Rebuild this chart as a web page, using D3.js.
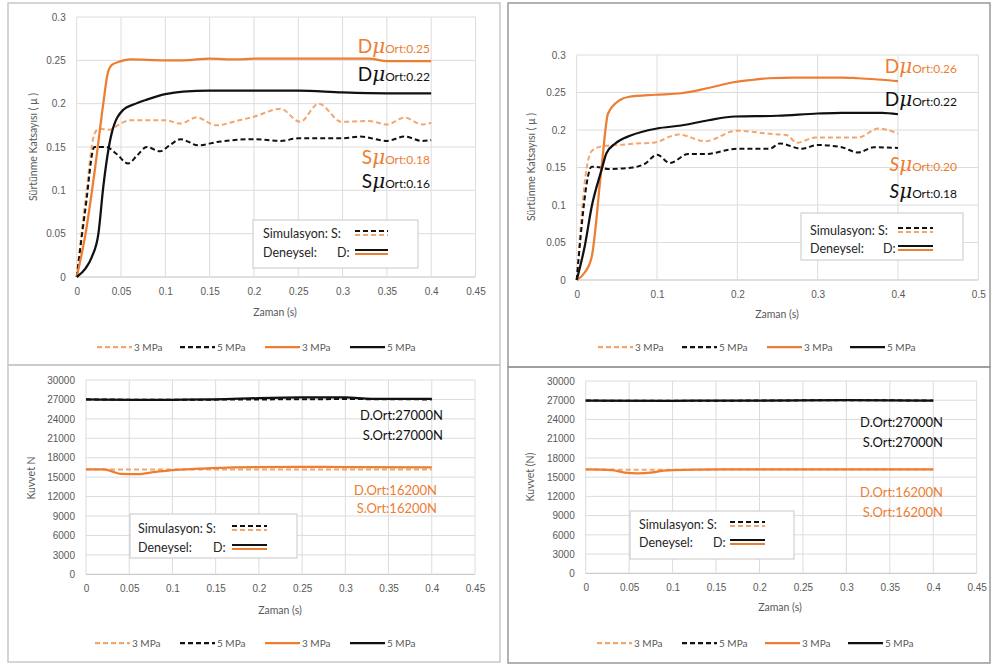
<!DOCTYPE html>
<html>
<head>
<meta charset="utf-8">
<script src="https://cdn.jsdelivr.net/npm/d3@7"></script>
<style>
  body { margin: 0; background: #fff; }
  svg { font-family: Lato, "Open Sans", sans-serif; }
  .tick text { fill: #595959; font-size: 10px; }
</style>
</head>
<body>
<svg id="chart" width="995" height="666"></svg>
<script>
// friction coefficient vs time, left test (t, mu)
var fricL_S3 = [[0,0],[0.01,0.09],[0.02,0.165],[0.025,0.171],[0.037,0.17],[0.048,0.176],[0.06,0.181],[0.08,0.181],[0.1,0.181],[0.117,0.177],[0.135,0.184],[0.158,0.175],[0.18,0.18],[0.2,0.185],[0.23,0.194],[0.252,0.179],[0.273,0.2],[0.299,0.179],[0.33,0.18],[0.35,0.176],[0.37,0.184],[0.39,0.176],[0.4,0.178]]
var fricL_S5 = [[0,0],[0.01,0.08],[0.02,0.15],[0.033,0.15],[0.045,0.142],[0.058,0.131],[0.068,0.14],[0.079,0.15],[0.094,0.145],[0.105,0.152],[0.117,0.159],[0.137,0.152],[0.16,0.156],[0.2,0.159],[0.23,0.157],[0.25,0.16],[0.3,0.16],[0.32,0.162],[0.35,0.157],[0.37,0.162],[0.39,0.157],[0.4,0.158]]
var fricL_D3 = [[0,0],[0.01,0.05],[0.02,0.12],[0.03,0.2],[0.035,0.235],[0.04,0.245],[0.05,0.249],[0.06,0.251],[0.1,0.25],[0.12,0.25],[0.15,0.252],[0.18,0.251],[0.2,0.252],[0.25,0.252],[0.3,0.252],[0.33,0.252],[0.35,0.249],[0.4,0.249]]
var fricL_D5 = [[0,0],[0.01,0.01],[0.017,0.023],[0.0245,0.05],[0.03,0.104],[0.0395,0.166],[0.0526,0.193],[0.064,0.199],[0.08,0.205],[0.1,0.211],[0.12,0.214],[0.15,0.215],[0.2,0.215],[0.25,0.215],[0.3,0.213],[0.35,0.212],[0.4,0.212]]

// friction coefficient vs time, right test
var fricR_S3 = [[0,0],[0.0125,0.15],[0.0187,0.172],[0.031,0.178],[0.052,0.18],[0.075,0.182],[0.095,0.183],[0.127,0.194],[0.16,0.185],[0.199,0.199],[0.24,0.195],[0.262,0.193],[0.274,0.183],[0.297,0.19],[0.35,0.19],[0.376,0.202],[0.4,0.195]]
var fricR_S5 = [[0,0],[0.0187,0.151],[0.03,0.15],[0.039,0.148],[0.07,0.15],[0.085,0.155],[0.1,0.167],[0.116,0.156],[0.139,0.168],[0.16,0.168],[0.2,0.175],[0.24,0.175],[0.253,0.182],[0.28,0.175],[0.3,0.18],[0.33,0.177],[0.35,0.17],[0.37,0.177],[0.4,0.176]]
var fricR_D3 = [[0,0],[0.01,0.01],[0.0187,0.031],[0.031,0.151],[0.039,0.222],[0.054,0.24],[0.064,0.244],[0.098,0.247],[0.13,0.249],[0.164,0.256],[0.197,0.264],[0.22,0.267],[0.239,0.269],[0.27,0.27],[0.33,0.27],[0.35,0.269],[0.38,0.267],[0.4,0.265]]
var fricR_D5 = [[0,0],[0.01,0.045],[0.0187,0.098],[0.031,0.147],[0.037,0.169],[0.048,0.182],[0.068,0.193],[0.1,0.202],[0.13,0.206],[0.164,0.213],[0.197,0.218],[0.25,0.219],[0.3,0.222],[0.33,0.223],[0.38,0.223],[0.4,0.221]]

// force vs time (N)
var forceL_S3 = [[0,16200],[0.1,16200],[0.2,16200],[0.3,16200],[0.4,16200]]
var forceL_S5 = [[0,27000],[0.1,26950],[0.2,27000],[0.3,27050],[0.4,27000]]
var forceL_D3 = [[0,16200],[0.02,16200],[0.03,15900],[0.04,15500],[0.06,15450],[0.08,15800],[0.1,16100],[0.13,16300],[0.17,16500],[0.25,16600],[0.3,16550],[0.4,16500]]
var forceL_D5 = [[0,27000],[0.05,26950],[0.1,26950],[0.15,27000],[0.2,27200],[0.25,27300],[0.3,27300],[0.33,27100],[0.4,27100]]

var forceR_S3 = [[0,16200],[0.1,16150],[0.2,16200],[0.3,16200],[0.4,16200]]
var forceR_S5 = [[0,26950],[0.1,26900],[0.2,26950],[0.3,27000],[0.4,26950]]
var forceR_D3 = [[0,16200],[0.03,16100],[0.045,15700],[0.06,15600],[0.075,15700],[0.09,16000],[0.1,16100],[0.15,16200],[0.4,16200]]
var forceR_D5 = [[0,26950],[0.1,26900],[0.15,26950],[0.2,26950],[0.3,27000],[0.4,26950]]

// ticks
var fricYTicks = [0, 0.05, 0.1, 0.15, 0.2, 0.25, 0.3]
var forceYTicks = [0, 3000, 6000, 9000, 12000, 15000, 18000, 21000, 24000, 27000, 30000]
var timeTicks45 = [0, 0.05, 0.1, 0.15, 0.2, 0.25, 0.3, 0.35, 0.4, 0.45]
var timeTicks5 = [0, 0.1, 0.2, 0.3, 0.4, 0.5]

var legendNames = ['3 MPa', '5 MPa', '3 MPa', '5 MPa']
var fricAnnL = [['D', 'Ort:0.25'], ['D', 'Ort:0.22'], ['S', 'Ort:0.18'], ['S', 'Ort:0.16']]
var fricAnnR = [['D', 'Ort:0.26'], ['D', 'Ort:0.22'], ['S', 'Ort:0.20'], ['S', 'Ort:0.18']]
var forceAnn = ['D.Ort:27000N', 'S.Ort:27000N', 'D.Ort:16200N', 'S.Ort:16200N']

var ORANGE = '#ED7D31', ORANGE_L = '#F2A66E', BLACK = '#111'
var styles = [
  {color: ORANGE_L, dash: '5,3'},
  {color: BLACK, dash: '5,3'},
  {color: ORANGE, dash: null},
  {color: BLACK, dash: null}
]
var fricAnnColors = [ORANGE, BLACK, ORANGE, BLACK]
var forceAnnColors = [BLACK, BLACK, ORANGE, ORANGE]

var svg = d3.select('#chart')
var fmt = d => String(+d.toFixed(2))

function drawPanel(o){
  var g = svg.append('g')
  g.append('rect').attr('x', o.frame[0]).attr('y', o.frame[1])
    .attr('width', o.frame[2] - o.frame[0]).attr('height', o.frame[3] - o.frame[1])
    .attr('fill', 'none').attr('stroke', o.frameColor).attr('stroke-width', 1.5)

  var x = d3.scaleLinear().domain(o.xDomain).range([o.px[0], o.px[1]])
  var y = d3.scaleLinear().domain(o.yDomain).range([o.py[0], o.py[1]])

  // grid
  g.selectAll('line.gy').data(o.yTicks).join('line')
    .attr('x1', o.px[0]).attr('x2', o.px[1]).attr('y1', y).attr('y2', y)
    .attr('stroke', (d, i) => i ? '#dcdcdc' : '#bfbfbf')
  g.selectAll('line.gx').data(o.xTicks).join('line')
    .attr('y1', o.py[0]).attr('y2', o.py[1]).attr('x1', x).attr('x2', x)
    .attr('stroke', '#dcdcdc')

  g.append('g').attr('transform', 'translate(' + (o.px[0] - 8) + ',0)')
    .call(d3.axisLeft(y).tickValues(o.yTicks).tickSize(0).tickFormat(o.yFmt))
    .call(s => s.select('.domain').remove())
  g.append('g').attr('transform', 'translate(0,' + (o.py[0] + 8) + ')')
    .call(d3.axisBottom(x).tickValues(o.xTicks).tickSize(0).tickFormat(fmt))
    .call(s => s.select('.domain').remove())
  g.selectAll('.tick text').attr('font-family', null)

  g.append('text').attr('x', o.xTitle[0]).attr('y', o.xTitle[1]).attr('text-anchor', 'middle')
    .attr('font-size', 10.5).attr('fill', '#595959').text('Zaman (s)')
  g.append('text').attr('transform', 'translate(' + o.yTitle[0] + ',' + o.yTitle[1] + ') rotate(-90)')
    .attr('text-anchor', 'middle').attr('font-size', 10.5).attr('fill', '#595959').text(o.yLabel)

  var line = d3.line().x(d => x(d[0])).y(d => y(d[1])).curve(d3.curveMonotoneX)
  o.series.forEach(function(s, i){
    g.append('path').attr('d', line(s)).attr('fill', 'none')
      .attr('stroke', styles[i].color).attr('stroke-width', styles[i].dash ? 2 : 2.25)
      .attr('stroke-dasharray', styles[i].dash)
  })

  // bottom legend
  legendNames.forEach(function(n, i){
    var lx = o.legX[i]
    g.append('line').attr('x1', lx).attr('x2', lx + 35).attr('y1', o.legY).attr('y2', o.legY)
      .attr('stroke', styles[i].color).attr('stroke-width', 2.25).attr('stroke-dasharray', styles[i].dash)
    g.append('text').attr('x', lx + 37).attr('y', o.legY + 3.5).attr('font-size', 10)
      .attr('fill', '#595959').text(n)
  })

  // inner legend box
  var b = o.box
  g.append('rect').attr('x', b[0]).attr('y', b[1]).attr('width', b[2] - b[0]).attr('height', b[3] - b[1])
    .attr('fill', '#fff').attr('stroke', '#c8c8c8')
  ;[['Simulasyon: S:', '5,3'], ['Deneysel:', null]].forEach(function(r, i){
    var ry = o.rows[i]
    g.append('text').attr('x', o.boxText).attr('y', ry + 4.5).attr('font-size', 12.5)
      .attr('fill', '#262626').text(r[0])
    if (i) g.append('text').attr('x', o.dX).attr('y', ry + 4.5).attr('font-size', 12.5)
      .attr('fill', '#262626').text('D:')
    ;[[BLACK, -2], [i ? ORANGE : ORANGE_L, 2]].forEach(function(c){
      g.append('line').attr('x1', o.sample[0]).attr('x2', o.sample[1])
        .attr('y1', ry + c[1]).attr('y2', ry + c[1])
        .attr('stroke', c[0]).attr('stroke-width', 2).attr('stroke-dasharray', r[1])
    })
  })

  // annotations
  o.ann.forEach(function(a, i){
    var t = g.append('text').attr('x', o.annX[i]).attr('y', o.annY[i])
      .attr('text-anchor', 'end').attr('fill', o.annColors[i])
    if (typeof a === 'string') {
      t.attr('font-size', 13).text(a)
    } else {
      t.append('tspan').attr('font-size', 19).attr('font-style', o.italicS && a[0] == 'S' ? 'italic' : null).text(a[0])
      t.append('tspan').attr('font-size', 20).attr('font-style', 'italic').attr('font-family', 'DejaVu Serif').text('μ')
      t.append('tspan').attr('font-size', 12).text(a[1])
    }
  })
}

drawPanel({
  frame: [8, 3, 500, 365], frameColor: '#c8c8c8',
  xDomain: [0, 0.45], yDomain: [0, 0.3], px: [76.7, 475.5], py: [277, 17],
  xTicks: timeTicks45, yTicks: fricYTicks, yFmt: fmt,
  xTitle: [275, 316], yTitle: [37, 147], yLabel: 'Sürtünme Katsayısı ( μ )',
  series: [fricL_S3, fricL_S5, fricL_D3, fricL_D5],
  legY: 347, legX: [97, 180, 265, 350],
  box: [253, 220, 418, 268], rows: [233, 252], boxText: 263, dX: 337, sample: [355, 388],
  ann: fricAnnL, annColors: fricAnnColors, annX: [430, 430, 430, 430], annY: [53, 81, 164, 188]
})

drawPanel({
  frame: [508, 3, 990, 367], frameColor: '#999',
  xDomain: [0, 0.5], yDomain: [0, 0.3], px: [576.7, 978.3], py: [280, 55],
  xTicks: timeTicks5, yTicks: fricYTicks, yFmt: fmt,
  xTitle: [777, 318], yTitle: [535, 167], yLabel: 'Sürtünme Katsayısı ( μ )',
  series: [fricR_S3, fricR_S5, fricR_D3, fricR_D5],
  legY: 347, legX: [598, 682, 767, 850],
  box: [801, 213, 963, 260], rows: [230, 248], boxText: 810, dX: 883, sample: [898, 933],
  ann: fricAnnR, annColors: fricAnnColors, annX: [957, 957, 957, 957], annY: [73, 106, 171, 198], italicS: true
})

drawPanel({
  frame: [8, 365, 500, 662], frameColor: '#c8c8c8',
  xDomain: [0, 0.45], yDomain: [0, 30000], px: [86, 475], py: [574.3, 380],
  xTicks: timeTicks45, yTicks: forceYTicks, yFmt: d => d,
  xTitle: [280, 614], yTitle: [35, 478], yLabel: 'Kuvvet N',
  series: [forceL_S3, forceL_S5, forceL_D3, forceL_D5],
  legY: 643, legX: [95, 180, 265, 350],
  box: [130, 514, 297, 558], rows: [528, 547], boxText: 138, dX: 213, sample: [232, 267],
  ann: forceAnn, annColors: forceAnnColors, annX: [443, 443, 437, 437], annY: [420, 440, 495, 513]
})

drawPanel({
  frame: [508, 367, 990, 663], frameColor: '#999',
  xDomain: [0, 0.45], yDomain: [0, 30000], px: [585.7, 976.7], py: [573.3, 381],
  xTicks: timeTicks45, yTicks: forceYTicks, yFmt: d => d,
  xTitle: [780, 611], yTitle: [534, 477], yLabel: 'Kuvvet  (N)',
  series: [forceR_S3, forceR_S5, forceR_D3, forceR_D5],
  legY: 643, legX: [597, 682, 765, 848],
  box: [630, 511, 794, 559], rows: [524, 542], boxText: 639, dX: 713, sample: [730, 765],
  ann: forceAnn, annColors: forceAnnColors, annX: [943, 943, 943, 943], annY: [427, 447, 497, 517]
})
</script>
</body>
</html>
